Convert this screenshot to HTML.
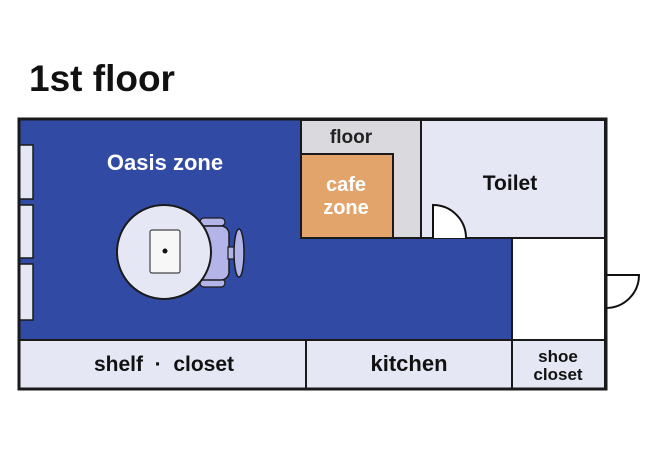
<!DOCTYPE html>
<html><head><style>
body{margin:0;background:#fff;}
svg text{font-family:"Liberation Sans",sans-serif;font-weight:bold;}
</style></head><body>
<svg width="658" height="451" viewBox="0 0 658 451" xmlns="http://www.w3.org/2000/svg">
<rect width="658" height="451" fill="#fff"/>
<text x="29" y="91" font-size="37" fill="#111">1st floor</text>
<rect x="19" y="119" width="493" height="221" fill="#314ba4"/>
<rect x="301" y="120" width="120" height="118" fill="#d9d9de" stroke="#1a1a1a" stroke-width="2"/>
<rect x="301" y="154" width="92" height="84" fill="#e2a46a" stroke="#1a1a1a" stroke-width="2"/>
<text x="351" y="143" font-size="19" fill="#222" text-anchor="middle">floor</text>
<text x="346" y="191" font-size="20" fill="#fff" text-anchor="middle">cafe</text>
<text x="346" y="214" font-size="20" fill="#fff" text-anchor="middle">zone</text>
<rect x="421" y="120" width="184" height="118" fill="#e5e8f4" stroke="#1a1a1a" stroke-width="2"/>
<text x="510" y="190" font-size="21" fill="#111" text-anchor="middle">Toilet</text>
<path d="M433 238 V205 A33 33 0 0 1 466 238" fill="#fff" stroke="#111" stroke-width="2"/>
<rect x="512" y="238" width="93" height="102" fill="#fff" stroke="#1a1a1a" stroke-width="2"/>
<path d="M606 275 H639 A33 33 0 0 1 606 308" fill="#fff" stroke="#111" stroke-width="2"/>
<rect x="19" y="340" width="287" height="49" fill="#e5e8f4" stroke="#1a1a1a" stroke-width="2"/>
<rect x="306" y="340" width="206" height="49" fill="#e5e8f4" stroke="#1a1a1a" stroke-width="2"/>
<rect x="512" y="340" width="93" height="49" fill="#e5e8f4" stroke="#1a1a1a" stroke-width="2"/>
<text x="164" y="371" font-size="21" fill="#111" text-anchor="middle" xml:space="preserve">shelf  ·  closet</text>
<text x="409" y="371" font-size="22" fill="#111" text-anchor="middle">kitchen</text>
<text x="558" y="362" font-size="17" fill="#111" text-anchor="middle">shoe</text>
<text x="558" y="380" font-size="17" fill="#111" text-anchor="middle">closet</text>
<rect x="19" y="145" width="14" height="54" fill="#e5e8f4" stroke="#1a1a1a" stroke-width="1.5"/>
<rect x="19" y="205" width="14" height="53" fill="#e5e8f4" stroke="#1a1a1a" stroke-width="1.5"/>
<rect x="19" y="264" width="14" height="56" fill="#e5e8f4" stroke="#1a1a1a" stroke-width="1.5"/>
<text x="165" y="170" font-size="22" fill="#fff" text-anchor="middle">Oasis zone</text>
<rect x="200" y="218" width="25" height="8" rx="4" fill="#b3b4e8" stroke="#1a1a1a" stroke-width="1.2"/>
<rect x="200" y="279" width="25" height="8" rx="4" fill="#b3b4e8" stroke="#1a1a1a" stroke-width="1.2"/>
<rect x="193" y="226" width="36" height="54" rx="8" fill="#b3b4e8" stroke="#1a1a1a" stroke-width="1.5"/>
<rect x="228" y="247" width="8" height="12" fill="#b3b4e8" stroke="#1a1a1a" stroke-width="1.2"/>
<ellipse cx="239" cy="253" rx="5" ry="24" fill="#b3b4e8" stroke="#1a1a1a" stroke-width="1.5"/>
<circle cx="164" cy="252" r="47" fill="#e5e8f4" stroke="#1a1a1a" stroke-width="2"/>
<rect x="150" y="230" width="30" height="43" rx="2" fill="#f7f7f7" stroke="#444" stroke-width="1.2"/>
<circle cx="165" cy="251" r="2.5" fill="#111"/>
<rect x="19" y="119" width="587" height="270" fill="none" stroke="#1a1a1a" stroke-width="3"/>
</svg>
</body></html>
